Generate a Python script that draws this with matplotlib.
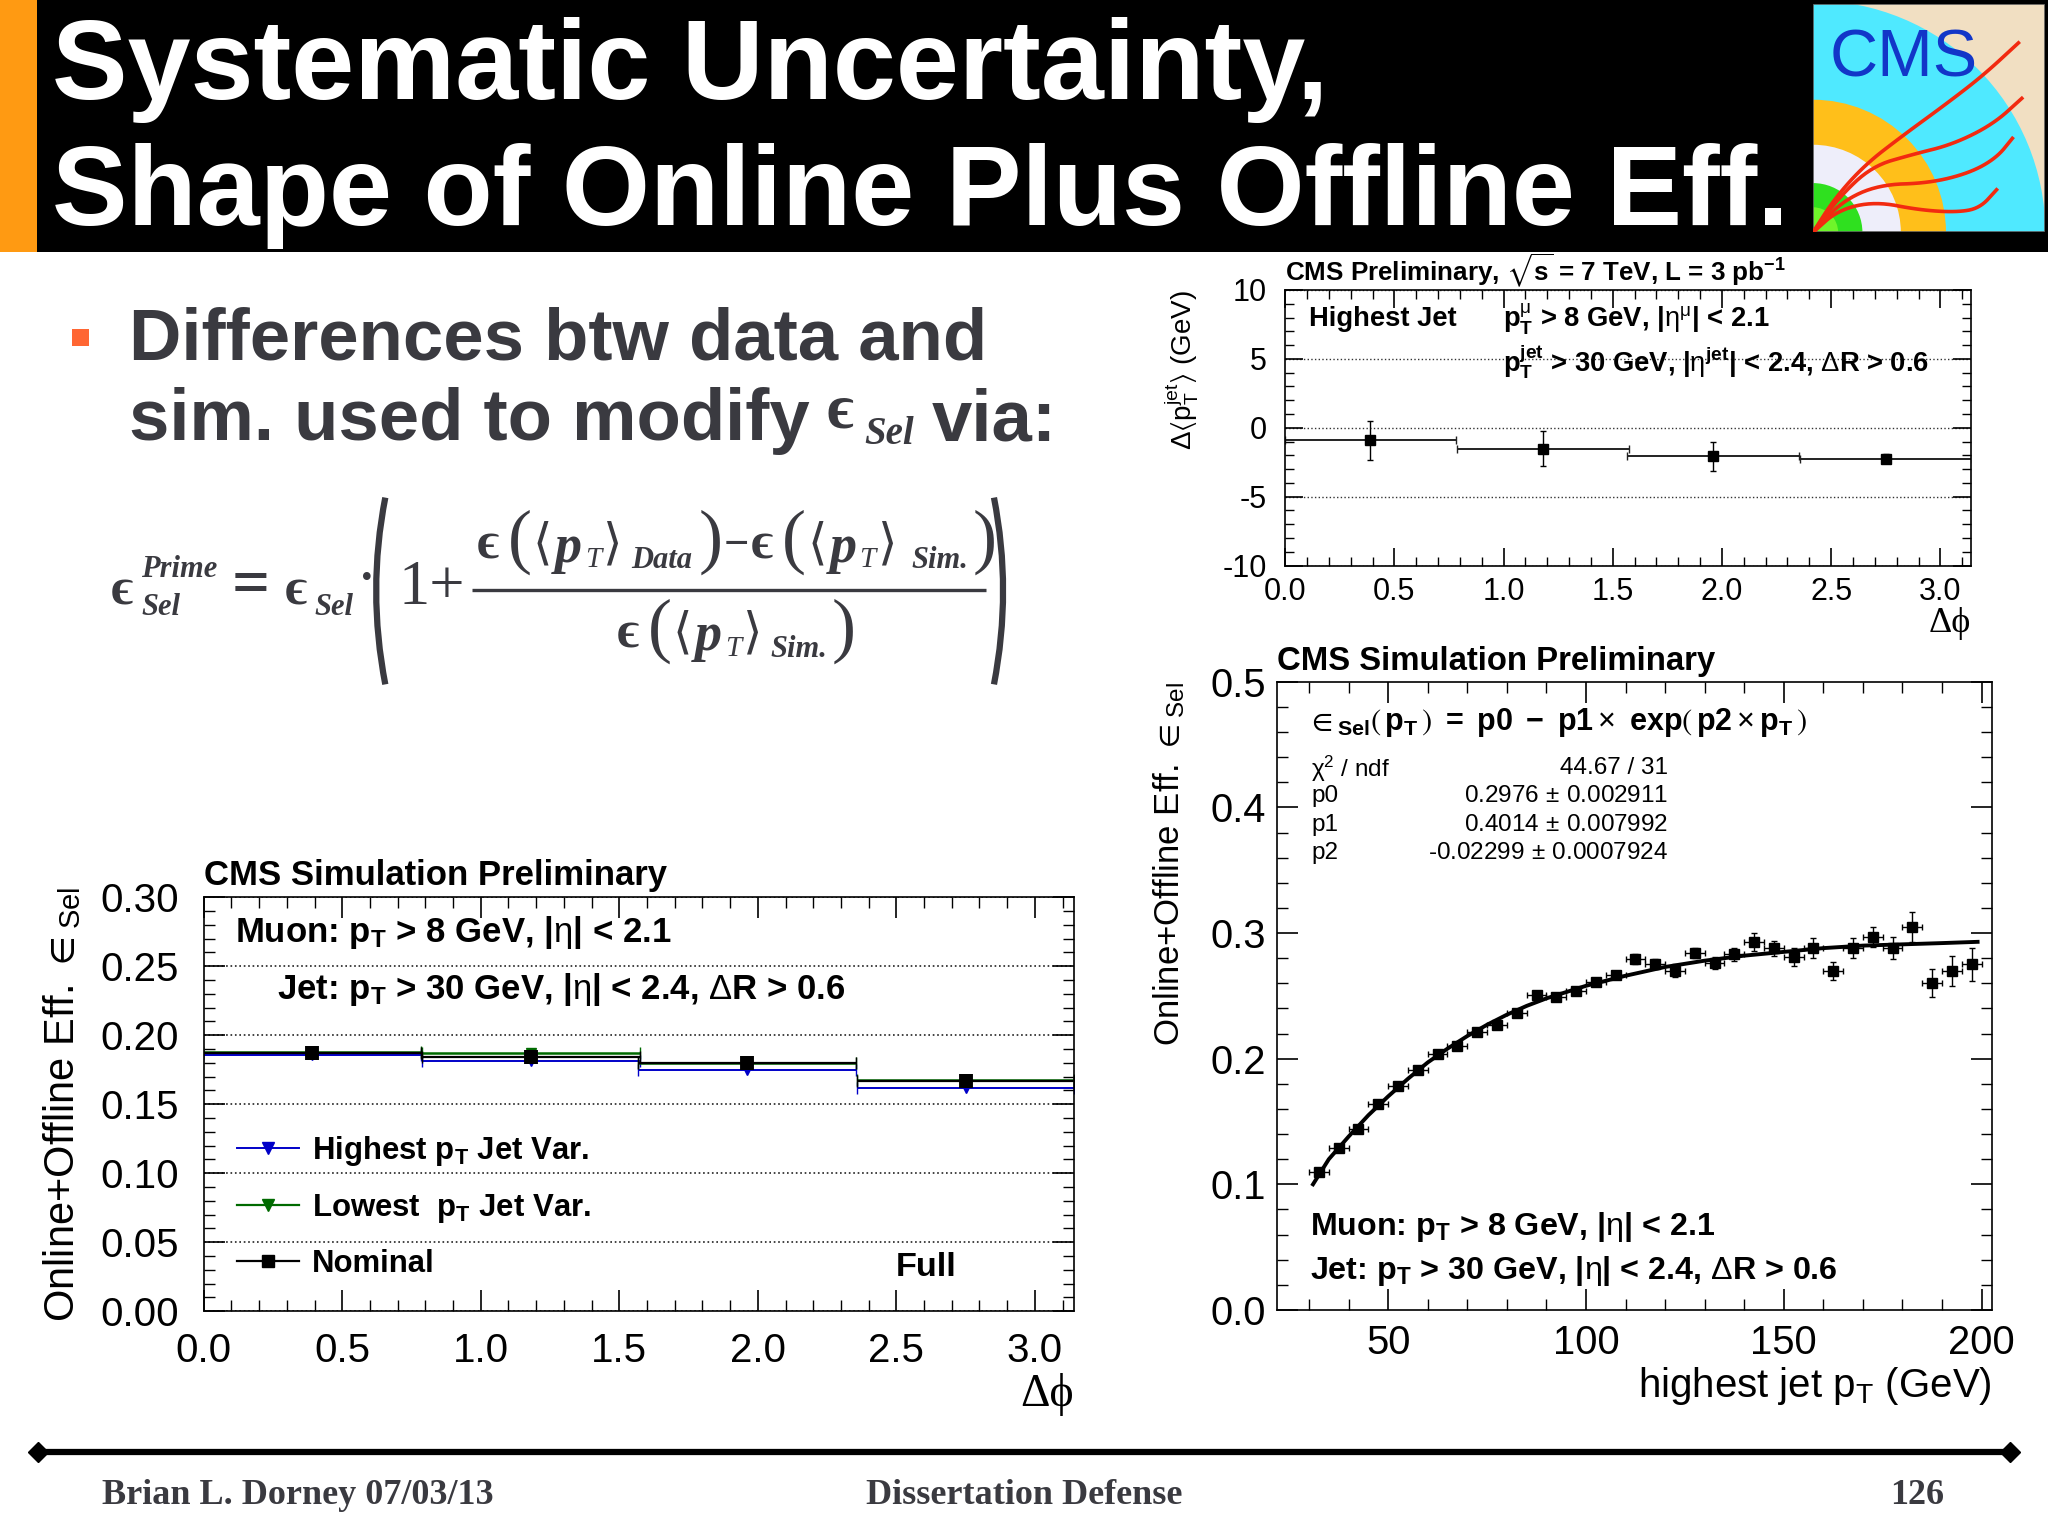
#Slide with three CMS efficiency panels
import numpy as np
import matplotlib
matplotlib.use('Agg')
import matplotlib.pyplot as plt
from matplotlib.lines import Line2D
from matplotlib.patches import Rectangle, Wedge, PathPatch
from matplotlib.path import Path
from matplotlib.ticker import MultipleLocator

plt.rcParams['font.family'] = ['Liberation Sans', 'DejaVu Sans']
plt.rcParams['mathtext.fontset'] = 'custom'
plt.rcParams['mathtext.rm'] = 'Liberation Sans'
plt.rcParams['mathtext.bf'] = 'Liberation Sans:bold'
plt.rcParams['mathtext.it'] = 'Liberation Sans:italic'
plt.rcParams['mathtext.fallback'] = 'stix'
plt.rcParams['axes.unicode_minus'] = False

# delta phi bins, shared by the two small panels
phi_centers = [0.39, 1.18, 1.96, 2.75]
phi_halfwidth = [0.393, 0.393, 0.393, 0.393]

# top right panel
dpt_vals = [-0.92, -1.53, -2.07, -2.24]
dpt_errs = [1.43, 1.28, 1.06, 0.35]

# bottom left panel
nominal = [0.1874, 0.184, 0.180, 0.1667]
nominal_err = [0.005, 0.005, 0.005, 0.005]
highest = [0.186, 0.181, 0.175, 0.162]
lowest = [0.188, 0.187, 0.180, 0.1674]

# bottom right panel
jet_pt = [32.5, 37.5, 42.5, 47.5, 52.5, 57.5, 62.5, 67.5, 72.5, 77.5, 82.5, 87.5,
          92.5, 97.5, 102.5, 107.5, 112.5, 117.5, 122.5, 127.5, 132.5, 137.5, 142.5,
          147.5, 152.5, 157.5, 162.5, 167.5, 172.5, 177.5, 182.5, 187.5, 192.5, 197.5]
eff = [0.110, 0.129, 0.144, 0.164, 0.178, 0.191, 0.204, 0.210, 0.221, 0.227, 0.236, 0.251,
       0.249, 0.254, 0.261, 0.267, 0.279, 0.275, 0.270, 0.284, 0.276, 0.283, 0.293,
       0.288, 0.281, 0.288, 0.270, 0.288, 0.297, 0.288, 0.305, 0.260, 0.270, 0.275]
eff_err = [0.002, 0.002, 0.002, 0.002, 0.002, 0.002, 0.002, 0.002, 0.002, 0.002, 0.002, 0.002,
           0.002, 0.002, 0.003, 0.003, 0.004, 0.004, 0.005, 0.004, 0.005, 0.005, 0.007,
           0.006, 0.007, 0.008, 0.007, 0.008, 0.008, 0.009, 0.012, 0.011, 0.012, 0.013]
pt_halfwidth = [2.5] * 34
fit_pt = [31, 35, 40, 45, 50, 55, 60, 65, 70, 75, 80, 85, 90, 95, 100, 110, 120, 130, 140, 150, 160, 170, 180, 190, 199]
fit_eff = [0.100, 0.120, 0.138, 0.155, 0.170, 0.184, 0.197, 0.208, 0.218, 0.227, 0.235, 0.242,
           0.248, 0.253, 0.258, 0.266, 0.273, 0.278, 0.282, 0.285, 0.288, 0.290, 0.291, 0.292, 0.293]

W = 1568.0
H = 1175.3
DARK = '#3a3a40'
SERIF = ['Liberation Serif', 'DejaVu Serif']
EPS = '\u03f5'
DPHI = '\u0394\u03d5'

fig = plt.figure(figsize=(20.48, 15.35), dpi=100, facecolor='white')


def panel(l, t, r, b):
    return fig.add_axes([l / W, 1 - b / H, (r - l) / W, (b - t) / H])


def style_axes(ax, xmaj, xmin, ymaj, ymin, major, minor, size, xpad, ypad):
    ax.xaxis.set_major_locator(MultipleLocator(xmaj))
    ax.xaxis.set_minor_locator(MultipleLocator(xmin))
    ax.yaxis.set_major_locator(MultipleLocator(ymaj))
    ax.yaxis.set_minor_locator(MultipleLocator(ymin))
    ax.tick_params(which='major', direction='in', top=True, right=True, length=major, width=1.2, labelsize=size)
    ax.tick_params(which='minor', direction='in', top=True, right=True, length=minor, width=1.0)
    ax.tick_params(axis='x', which='major', pad=xpad)
    ax.tick_params(axis='y', which='major', pad=ypad)
    for s in ax.spines.values():
        s.set_linewidth(1.2)


# whole slide overlay in reference coordinates
bg = fig.add_axes([0, 0, 1, 1], zorder=0)
bg.set_xlim(0, W)
bg.set_ylim(H, 0)
bg.axis('off')
bg.add_patch(Rectangle((0, 0), W, 193, color='black', lw=0))
bg.add_patch(Rectangle((0, 0), 28, 193, color='#ff9a12', lw=0))
bg.text(40, 76, 'Systematic Uncertainty,', color='white', fontsize=81.6, fontweight='bold', va='baseline')
bg.text(40, 172, 'Shape of Online Plus Offline Eff.', color='white', fontsize=81.6, fontweight='bold', va='baseline')

bg.add_patch(Rectangle((55, 252), 13, 13, color='#ff6633', lw=0))
bg.text(99, 275, 'Differences btw data and', color=DARK, fontsize=52.2, fontweight='bold', va='baseline')
bg.text(99, 337, 'sim. used to modify', color=DARK, fontsize=52.2, fontweight='bold', va='baseline')
bg.text(633, 316, EPS, color=DARK, fontsize=46, family=SERIF, fontweight='bold', va='center')
bg.text(662, 333, 'Sel', color=DARK, fontsize=28, family=SERIF, style='italic', fontweight='bold', va='center')
bg.text(713, 337, 'via:', color=DARK, fontsize=52.2, fontweight='bold', va='baseline')


# formula pieces
def ftext(x, y, s, size=30, italic=False, bold=True, family=SERIF):
    bg.text(x, y, s, color=DARK, fontsize=size, family=family, va='center', ha='left',
            style='italic' if italic else 'normal', fontweight='bold' if bold else 'normal')


def delimited(x, y, sub, sub_dx, close_dx):
    ftext(x, y - 2, EPS, 38)
    ftext(x + 24, y - 5, '(', 52, bold=False)
    ftext(x + 43, y - 3, '\u27e8', 36, bold=False, family=['DejaVu Sans'])
    ftext(x + 60, y, 'p', 39, italic=True)
    ftext(x + 83, y + 9, 'T', 21, italic=True, bold=False)
    ftext(x + 97, y - 3, '\u27e9', 36, bold=False, family=['DejaVu Sans'])
    ftext(x + sub_dx, y + 9, sub, 22, italic=True)
    ftext(x + close_dx, y - 5, ')', 52, bold=False)


ftext(85, 453, EPS, 38)
ftext(108, 436, 'Prime', 22, italic=True)
ftext(108, 465, 'Sel', 22, italic=True)
ftext(177, 450, '=', 48)
ftext(218, 453, EPS, 38)
ftext(241, 465, 'Sel', 22, italic=True)
ftext(275, 445, '\u00b7', 34)
ftext(305, 451, '1+', 45, bold=False)
delimited(365, 420, 'Data', 118, 170)
ftext(554, 418, '\u2212', 32)
delimited(575, 420, 'Sim.', 123, 170)
delimited(472, 488, 'Sim.', 118, 165)
bg.plot([361, 755], [452, 452], color=DARK, lw=2.4, solid_capstyle='butt')
for x0, bend in [(295, -7), (761, 7)]:
    verts = [(x0, 381), (x0 + 2 * bend, 452), (x0, 524)]
    bg.add_patch(PathPatch(Path(verts, [Path.MOVETO, Path.CURVE3, Path.CURVE3]), fc='none', ec=DARK, lw=4.5))

# footer
bg.plot([30, 1538], [1112, 1112], color='black', lw=4.5, solid_capstyle='butt')
bg.plot([29, 1539], [1112, 1112], ls='none', marker='D', color='black', ms=10)
bg.text(78, 1145, 'Brian L. Dorney 07/03/13', color=DARK, fontsize=26, family=SERIF, fontweight='bold', va='center')
bg.text(784, 1145, 'Dissertation Defense', color=DARK, fontsize=26, family=SERIF, fontweight='bold', va='center', ha='center')
bg.text(1468, 1145, '126', color=DARK, fontsize=26, family=SERIF, fontweight='bold', va='center', ha='center')

# logo, the detector quarter sits in the corner
logo = panel(1388, 3, 1566, 178)
logo.set_xlim(0, 690)
logo.set_ylim(0, 680)
logo.axis('off')
logo.add_patch(Rectangle((0, 0), 690, 680, color='#f1dfc2', lw=0))
for radius, col in [(690, '#4fe9ff'), (395, '#ffbf1a'), (261, '#eeeefa'), (147, '#2fe01f'), (75, '#6ff52a')]:
    logo.add_patch(Wedge((0, 0), radius, 0, 90, color=col, lw=0))
tracks = [
    [(0, 0), (65, 102), (155, 202), (265, 287), (395, 382), (505, 467), (610, 564)],
    [(0, 0), (75, 102), (175, 197), (295, 232), (415, 262), (535, 322), (620, 399)],
    [(0, 0), (85, 92), (195, 142), (345, 147), (465, 177), (545, 222), (592, 280)],
    [(0, 0), (75, 67), (185, 92), (315, 67), (425, 60), (495, 72), (545, 127)],
]


def chaikin(points, rounds=3):
    # round off the corners of a hand read track
    pts = np.array(points, dtype=float)
    for _ in range(rounds):
        q = 0.75 * pts[:-1] + 0.25 * pts[1:]
        r = 0.25 * pts[:-1] + 0.75 * pts[1:]
        mid = np.empty((2 * len(q), 2))
        mid[0::2] = q
        mid[1::2] = r
        pts = np.vstack([pts[0], mid, pts[-1]])
    return pts


for tr in tracks:
    smooth = chaikin(tr)
    logo.plot(smooth[:, 0], smooth[:, 1], color='#f22a10', lw=2.6)
logo.text(270, 515, 'CMS', color='#1236c8', fontsize=48, ha='center', va='center')
logo.add_patch(Rectangle((0, 0), 690, 680, fc='none', ec='#555555', lw=1.2))

# top right panel
ax1 = panel(984, 222, 1509, 433)
ax1.set_xlim(0, 3.14)
ax1.set_ylim(-10, 10)
ax1.errorbar(phi_centers, dpt_vals, xerr=phi_halfwidth, fmt='none', ecolor='#222222', elinewidth=1.4, capsize=3)
ax1.errorbar(phi_centers, dpt_vals, yerr=dpt_errs, fmt='s', color='black', ms=6.5, elinewidth=1.0, capsize=2)
ax1.grid(axis='y', which='major', linestyle=':', color='#333333', lw=1.0)
style_axes(ax1, 0.5, 0.1, 5, 1, 13, 6.5, 22, 8, 13)
ax1.set_xlabel(DPHI, fontsize=26, loc='right', labelpad=0, family=SERIF)
ax1.set_ylabel(r'$\Delta\langle \mathrm{p}_{\mathrm{T}}^{\mathrm{jet}}\rangle$ (GeV)', fontsize=20, loc='top', labelpad=16)
ax1.set_title(r'CMS Preliminary, $\mathbf{\sqrt{s}}$ = 7 TeV, L = 3 pb$^{\mathbf{-1}}$', loc='left', fontsize=18.7, fontweight='bold', pad=0)
ax1.text(0.034, 0.895, 'Highest Jet', transform=ax1.transAxes, fontsize=19.7, fontweight='bold', va='center')
ax1.text(0.318, 0.895, r'$\mathbf{p}_{\mathbf{T}}^{\mathrm{\mu}}$ > 8 GeV, |$\mathrm{\eta}^{\mathrm{\mu}}$| < 2.1', transform=ax1.transAxes, fontsize=19.7, fontweight='bold', va='center')
ax1.text(0.318, 0.74, r'$\mathbf{p}_{\mathbf{T}}^{\mathbf{jet}}$ > 30 GeV, |$\mathrm{\eta}^{\mathbf{jet}}$| < 2.4, $\Delta$R > 0.6', transform=ax1.transAxes, fontsize=19.7, fontweight='bold', va='center')

# bottom left panel
ax2 = panel(156, 687, 822, 1004)
ax2.set_xlim(0, 3.14)
ax2.set_ylim(0, 0.30)
ax2.errorbar(phi_centers, highest, xerr=phi_halfwidth, fmt='v', color='#0000c8', ms=7, elinewidth=1.4, capsize=4)
ax2.errorbar(phi_centers, lowest, xerr=phi_halfwidth, fmt='v', color='#006a00', ms=7, elinewidth=1.8, capsize=4)
ax2.errorbar(phi_centers, nominal, xerr=phi_halfwidth, fmt='none', ecolor='black', elinewidth=1.6, capsize=4)
ax2.errorbar(phi_centers, nominal, yerr=nominal_err, fmt='none', ecolor='black', elinewidth=10, zorder=5)
ax2.grid(axis='y', which='major', linestyle=':', color='#222222', lw=1.2)
style_axes(ax2, 0.5, 0.1, 0.05, 0.01, 15, 8, 29, 15, 18)
ax2.set_xlabel(DPHI, fontsize=33, loc='right', labelpad=2, family=SERIF)
ax2.set_ylabel(r'Online+Offline Eff. $\in_{\mathrm{Sel}}$', fontsize=30, loc='center', labelpad=12)
ax2.set_title('CMS Simulation Preliminary', loc='left', fontsize=25, fontweight='bold', pad=8.5)
ax2.text(0.036, 0.915, r'Muon: $\mathbf{p_T}$ > 8 GeV, |$\mathrm{\eta}$| < 2.1', transform=ax2.transAxes, fontsize=25, fontweight='bold', va='center')
ax2.text(0.084, 0.776, r'Jet: $\mathbf{p_T}$ > 30 GeV, |$\mathrm{\eta}$| < 2.4, $\Delta$R > 0.6', transform=ax2.transAxes, fontsize=25, fontweight='bold', va='center')
ax2.text(0.796, 0.105, 'Full', transform=ax2.transAxes, fontsize=24.7, fontweight='bold', va='center')
handles = [
    Line2D([], [], color='#0000c8', marker='v', ms=8, lw=1.4),
    Line2D([], [], color='#006a00', marker='v', ms=8, lw=1.6),
    Line2D([], [], color='black', marker='s', ms=8, lw=1.6),
]
labels = [r'Highest $\mathbf{p_T}$ Jet Var.', r'Lowest  $\mathbf{p_T}$ Jet Var.', 'Nominal']
ax2.legend(handles, labels, loc='lower left', bbox_to_anchor=(0.006, 0.01), frameon=False,
           handlelength=2.0, handletextpad=0.42, labelspacing=0.78, prop={'weight': 'bold', 'size': 22.4})

# bottom right panel
ax3 = panel(978, 522, 1525, 1003)
ax3.set_xlim(22, 202.6)
ax3.set_ylim(0, 0.5)
ax3.errorbar(jet_pt, eff, xerr=pt_halfwidth, yerr=eff_err, fmt='s', color='black', ms=7, elinewidth=1.0, capsize=2.2)
ax3.plot(fit_pt, fit_eff, color='black', lw=2.8)
style_axes(ax3, 50, 10, 0.1, 0.02, 15, 8, 28.8, 10, 8)
ax3.set_xlabel(r'highest jet $\mathrm{p}_{\mathrm{T}}$ (GeV)', fontsize=29, loc='right', labelpad=2)
ax3.set_ylabel(r'Online+Offline Eff. $\in_{\mathrm{Sel}}$', fontsize=25, loc='top', labelpad=17)
ax3.set_title('CMS Simulation Preliminary', loc='left', fontsize=23.7, fontweight='bold', pad=8.5)
ax3.text(0.04, 0.935, r'$\in_{\mathbf{Sel}}\left(\,\mathbf{p_T}\,\right)\ \mathbf{=\ p0\ -\ p1}\times\ \mathbf{exp}\left(\,\mathbf{p2}\times\mathbf{p_T}\,\right)$', transform=ax3.transAxes, fontsize=22, fontweight='bold', va='center')
stat_names = [r'$\mathrm{\chi}^2$ / ndf', 'p0', 'p1', 'p2']
stat_vals = ['44.67 / 31', r'0.2976$\,\pm\,$0.002911', r'0.4014$\,\pm\,$0.007992', r'-0.02299$\,\pm\,$0.0007924']
for fy, name, val in zip([0.862, 0.818, 0.772, 0.727], stat_names, stat_vals):
    ax3.text(0.047, fy, name, transform=ax3.transAxes, fontsize=17.5, va='center')
    ax3.text(0.547, fy, val, transform=ax3.transAxes, fontsize=17.5, va='center', ha='right')
ax3.text(0.046, 0.132, r'Muon: $\mathbf{p_T}$ > 8 GeV, |$\mathrm{\eta}$| < 2.1', transform=ax3.transAxes, fontsize=23.2, fontweight='bold', va='center')
ax3.text(0.046, 0.062, r'Jet: $\mathbf{p_T}$ > 30 GeV, |$\mathrm{\eta}$| < 2.4, $\Delta$R > 0.6', transform=ax3.transAxes, fontsize=23.2, fontweight='bold', va='center')

fig.savefig('out.png', dpi=100, facecolor='white')
